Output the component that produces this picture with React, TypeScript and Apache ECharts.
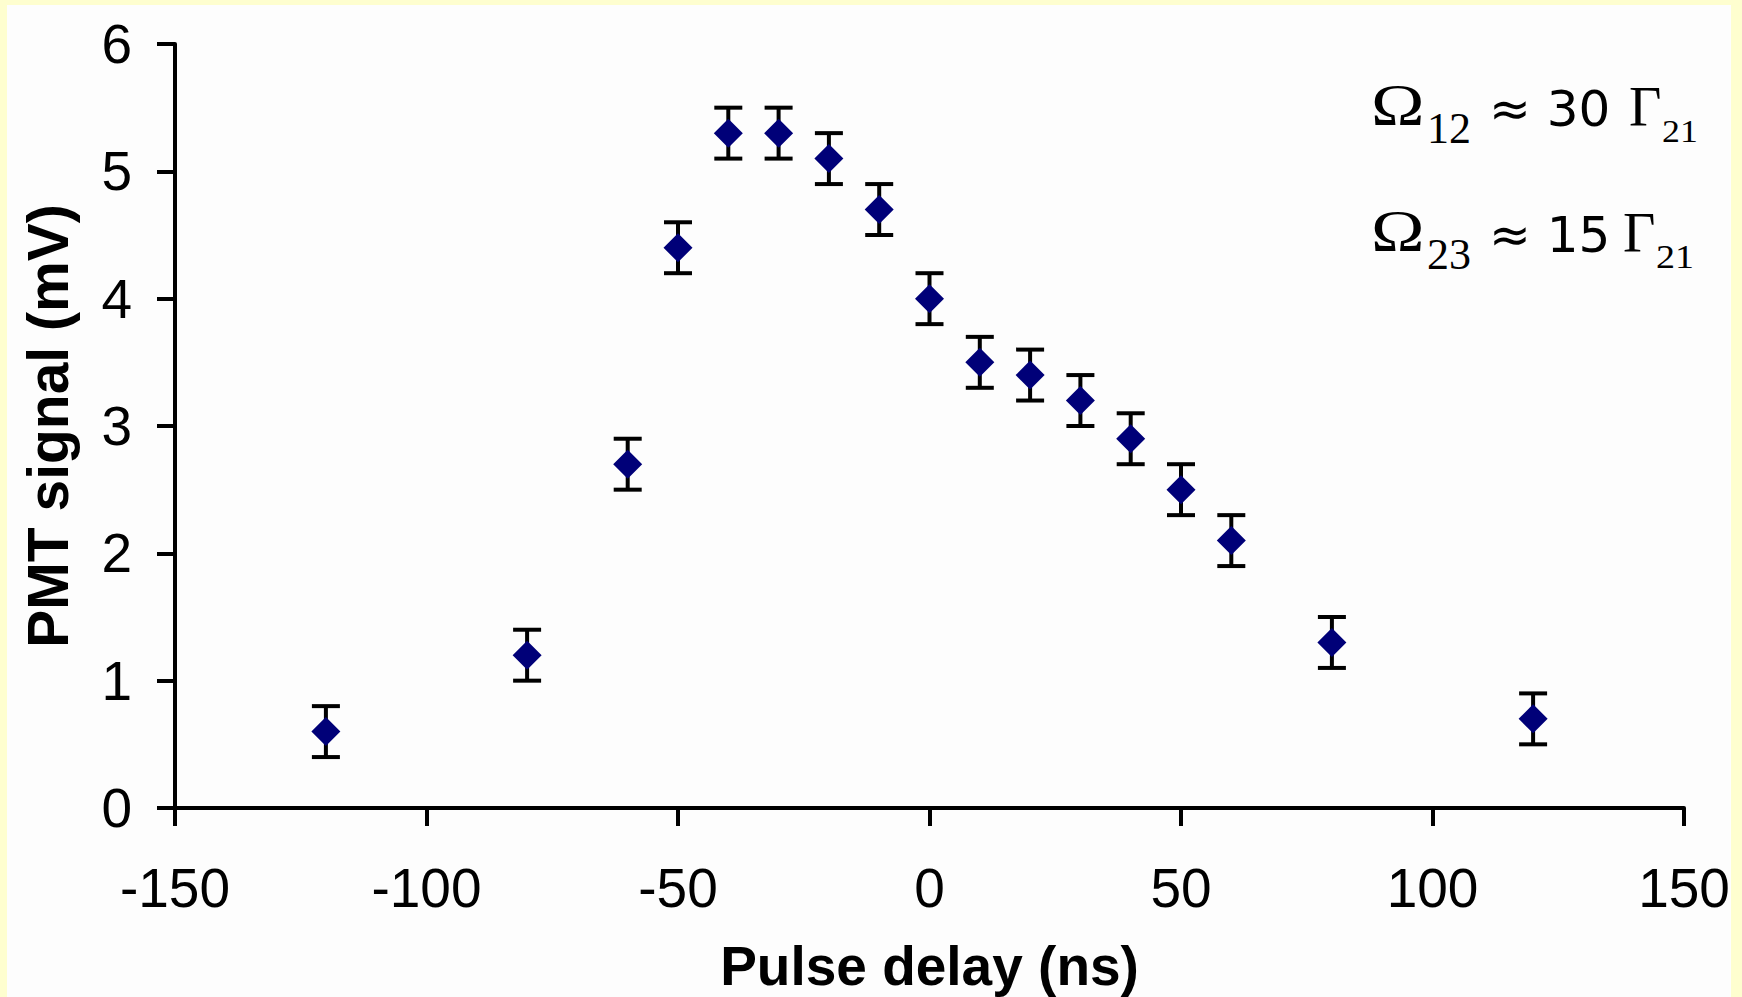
import React, { useEffect, useRef } from "react";
import * as echarts from "echarts";

const delays = [-120, -80, -60, -50, -40, -30, -20, -10, 0, 10, 20, 30, 40, 50, 60, 80, 120];
const signals = [0.6, 1.2, 2.7, 4.4, 5.3, 5.3, 5.1, 4.7, 4.0, 3.5, 3.4, 3.2, 2.9, 2.5, 2.1, 1.3, 0.7];
const errors = [0.2, 0.2, 0.2, 0.2, 0.2, 0.2, 0.2, 0.2, 0.2, 0.2, 0.2, 0.2, 0.2, 0.2, 0.2, 0.2, 0.2];

const xTitle = "Pulse delay (ns)";
const yTitle = "PMT signal (mV)";

const SANS = "'Liberation Sans', Arial, sans-serif";
const SERIF = "'Liberation Serif', 'Times New Roman', serif";
const ROUND = "'DejaVu Sans', 'Noto Sans', sans-serif";

export default function App() {
  const ref = useRef<HTMLDivElement>(null);

  useEffect(() => {
    document.body.style.margin = "0";
    const chart = echarts.init(ref.current!, null, { renderer: "svg" });

    const points = delays.map((d, i) => [d, signals[i]]);
    const errData = delays.map((d, i) => [d, signals[i] - errors[i], signals[i] + errors[i]]);

    const t = (text: string, x: number, y: number, size: number, family: string, sx = 1) => ({
      type: "text",
      x,
      y,
      scaleX: sx,
      z: 100,
      style: {
        text,
        fontSize: size,
        fontFamily: family,
        fill: "#000",
        align: "left",
        verticalAlign: "middle",
      },
    });

    const option: any = {
      animation: false,
      backgroundColor: "#FEFECF",
      graphic: [
        {
          type: "rect",
          z: -10,
          shape: { x: 7, y: 5, width: 1724, height: 992 },
          style: { fill: "#FDFDFD" },
        },
        t("Ω", 1371, 105, 60, SERIF, 1.2),
        t("12", 1427, 128, 44, SERIF),
        t("≈ 30", 1489, 109, 50, ROUND),
        t("Γ", 1629, 107, 56, SERIF),
        t("21", 1662, 131, 32, SERIF, 1.12),
        t("Ω", 1371, 231, 60, SERIF, 1.2),
        t("23", 1427, 254, 44, SERIF),
        t("≈ 15", 1489, 235, 50, ROUND),
        t("Γ", 1623, 233, 56, SERIF),
        t("21", 1656, 257, 34, SERIF, 1.12),
      ],
      grid: {
        left: 175,
        right: 58,
        top: 44,
        bottom: 189,
        containLabel: false,
        outerBoundsMode: "none",
      },
      xAxis: {
        type: "value",
        min: -150,
        max: 150,
        interval: 50,
        name: xTitle,
        nameLocation: "middle",
        nameGap: 130,
        nameTextStyle: { fontSize: 55, fontWeight: "bold", fontFamily: SANS, color: "#000" },
        axisLine: { show: true, onZero: false, lineStyle: { color: "#000", width: 4 } },
        axisTick: { show: true, inside: false, length: 18, lineStyle: { color: "#000", width: 4 } },
        axisLabel: { fontSize: 55, fontFamily: SANS, color: "#000", margin: 52 },
        splitLine: { show: false },
      },
      yAxis: {
        type: "value",
        min: 0,
        max: 6,
        interval: 1,
        name: yTitle,
        nameLocation: "middle",
        nameGap: 99,
        nameTextStyle: { fontSize: 57, fontWeight: "bold", fontFamily: SANS, color: "#000" },
        axisLine: { show: true, onZero: false, lineStyle: { color: "#000", width: 4 } },
        axisTick: { show: true, inside: false, length: 18, lineStyle: { color: "#000", width: 4 } },
        axisLabel: { fontSize: 55, fontFamily: SANS, color: "#000", margin: 43 },
        splitLine: { show: false },
      },
      series: [
        {
          type: "custom",
          z: 2,
          data: errData,
          renderItem: (params: any, api: any) => {
            const x = api.value(0);
            const lo = api.coord([x, api.value(1)]);
            const hi = api.coord([x, api.value(2)]);
            const hw = 14;
            const st = { stroke: "#000", lineWidth: 4 };
            return {
              type: "group",
              children: [
                { type: "line", shape: { x1: lo[0], y1: lo[1], x2: hi[0], y2: hi[1] }, style: st },
                { type: "line", shape: { x1: lo[0] - hw, y1: lo[1], x2: lo[0] + hw, y2: lo[1] }, style: st },
                { type: "line", shape: { x1: hi[0] - hw, y1: hi[1], x2: hi[0] + hw, y2: hi[1] }, style: st },
              ],
            };
          },
        },
        {
          type: "scatter",
          z: 3,
          data: points,
          symbol: "diamond",
          symbolSize: [29, 29],
          itemStyle: { color: "#000078", opacity: 1 },
        },
      ],
    };

    chart.setOption(option);
    return () => chart.dispose();
  }, []);

  return <div ref={ref} style={{ width: 1742, height: 997 }} />;
}
